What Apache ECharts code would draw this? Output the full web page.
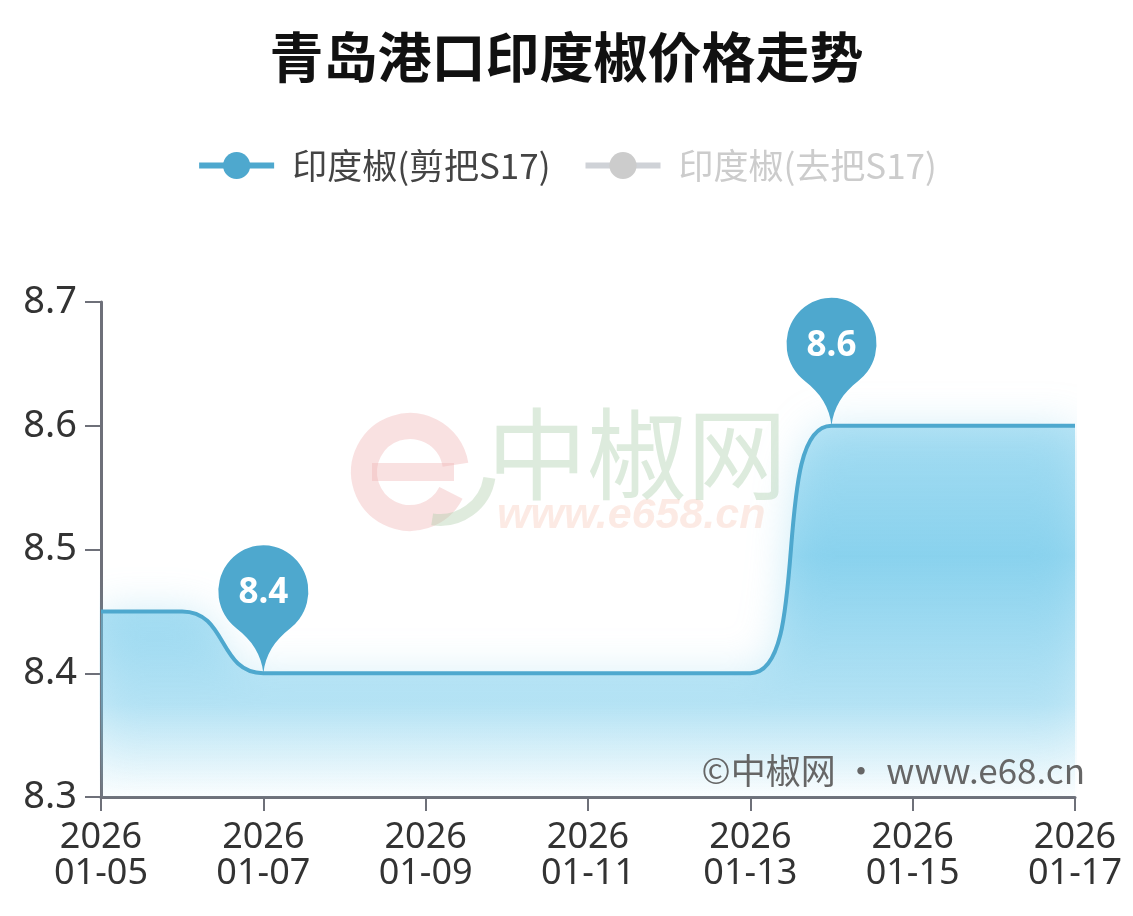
<!DOCTYPE html>
<html><head><meta charset="utf-8">
<script src="https://cdn.jsdelivr.net/npm/echarts@6/dist/echarts.min.js"></script>
<style>html,body{margin:0;padding:0;background:#fff}#c{width:1133px;height:916px}</style>
</head><body><div id="c"></div>
<script>
const title = '青岛港口印度椒价格走势';
const seriesNames = ['印度椒(剪把S17)', '印度椒(去把S17)'];
const dates = ['2026\n01-05','2026\n01-06','2026\n01-07','2026\n01-08','2026\n01-09','2026\n01-10','2026\n01-11','2026\n01-12','2026\n01-13','2026\n01-14','2026\n01-15','2026\n01-16','2026\n01-17'];
const jianba = [8.45, 8.45, 8.4, 8.4, 8.4, 8.4, 8.4, 8.4, 8.4, 8.6, 8.6, 8.6, 8.6];
const quba = [];
const yTicks = [8.3, 8.4, 8.5, 8.6, 8.7];

const pinPath = 'path://M45 126 C43 108 34 94 18 82 A45 45 0 1 1 72 82 C56 94 47 108 45 126 Z';

const chart = echarts.init(document.getElementById('c'));
const font = '"Noto Sans", "Noto Sans CJK SC", sans-serif';
chart.setOption({
  animation: false,
  textStyle: {fontFamily: font},
  title: {text: title, left: 'center', top: 25, textStyle: {fontSize: 54, fontWeight: 'bold', color: '#111', fontFamily: '"Noto Sans CJK SC", sans-serif'}},
  legend: {
    top: 143, left: 'center', itemWidth: 75, itemHeight: 34, itemGap: 32,
    textStyle: {fontSize: 35, color: '#444', fontFamily: '"Noto Sans CJK SC", sans-serif', padding: [0, 0, 0, 13]},
    lineStyle: {width: 6, inactiveWidth: 6},
    inactiveColor: '#ccc',
    selected: {[seriesNames[1]]: false},
    data: seriesNames
  },
  grid: {left: 101, right: 58, top: 302, bottom: 119},
  xAxis: {
    type: 'category', boundaryGap: false, data: dates,
    axisLine: {lineStyle: {color: '#6e7079', width: 3}},
    axisTick: {interval: 1, length: 14, lineStyle: {width: 2}},
    axisLabel: {interval: 1, fontSize: 36, color: '#333', lineHeight: 36, margin: 23},
    splitLine: {show: false}
  },
  yAxis: {
    type: 'value', min: yTicks[0], max: yTicks[yTicks.length-1], interval: 0.1,
    axisLine: {show: true, lineStyle: {color: '#6e7079', width: 3}},
    axisTick: {show: true, length: 16, lineStyle: {width: 2}},
    axisLabel: {fontSize: 38, color: '#333', margin: 24, formatter: v => v.toFixed(1)},
    splitLine: {show: false}
  },
  graphic: [
    {type: 'arc', z: 0, shape: {cx: 410, cy: 472, r: 46, startAngle: 0.15 * Math.PI, endAngle: 1.95 * Math.PI}, style: {stroke: 'rgba(240,180,180,0.4)', lineWidth: 26, fill: null}},
    {type: 'rect', z: 0, shape: {x: 372, y: 463, width: 82, height: 18}, style: {fill: 'rgba(240,180,180,0.4)'}},
    {type: 'arc', z: 0, shape: {cx: 440, cy: 470, r: 50, startAngle: 0.05 * Math.PI, endAngle: 0.55 * Math.PI}, style: {stroke: 'rgba(175,205,170,0.4)', lineWidth: 12, fill: null}},
    {type: 'text', left: 487, top: 404, z: 0, style: {text: '中椒网', font: '100px "Noto Sans CJK SC"', fill: 'rgba(170,205,170,0.4)'}},
    {type: 'text', left: 497, top: 495, z: 0, style: {text: 'www.e658.cn', font: 'italic bold 43px "Liberation Sans"', fill: 'rgba(245,185,165,0.3)'}},
    {type: 'text', right: 48, top: 753, z: 10, style: {text: '©中椒网 · www.e68.cn', font: '35px "Noto Sans CJK SC"', fill: '#666'}}
  ],
  series: [
    {
      name: seriesNames[0], type: 'line', data: jianba, smooth: true,
      showSymbol: false, symbol: 'circle', symbolSize: 30,
      itemStyle: {color: '#4ea8ce'},
      lineStyle: {width: 4, color: '#4ea8ce'},
      areaStyle: {
        color: new echarts.graphic.LinearGradient(0, 0, 0, 1, [
          {offset: 0, color: 'rgba(105,198,234,0.65)'},
          {offset: 0.35, color: 'rgba(95,194,232,0.85)'},
          {offset: 0.75, color: 'rgba(115,202,236,0.55)'},
          {offset: 1, color: 'rgba(160,220,240,0.05)'}
        ]),
        shadowColor: 'rgba(100,195,230,0.6)', shadowBlur: 40
      },
      markPoint: {
        symbol: pinPath, symbolSize: [90, 128], symbolOffset: [0, '-50%'],
        itemStyle: {color: '#4ea8ce'},
        label: {fontSize: 35, fontWeight: 'bold', color: '#fff', offset: [0, -16]},
        data: [{type: 'max'}, {type: 'min'}]
      }
    },
    {
      name: seriesNames[1], type: 'line', data: quba, smooth: true,
      showSymbol: false, symbol: 'circle', symbolSize: 30,
      itemStyle: {color: '#f08c4a'}, lineStyle: {width: 4}
    }
  ]
});
</script></body></html>
